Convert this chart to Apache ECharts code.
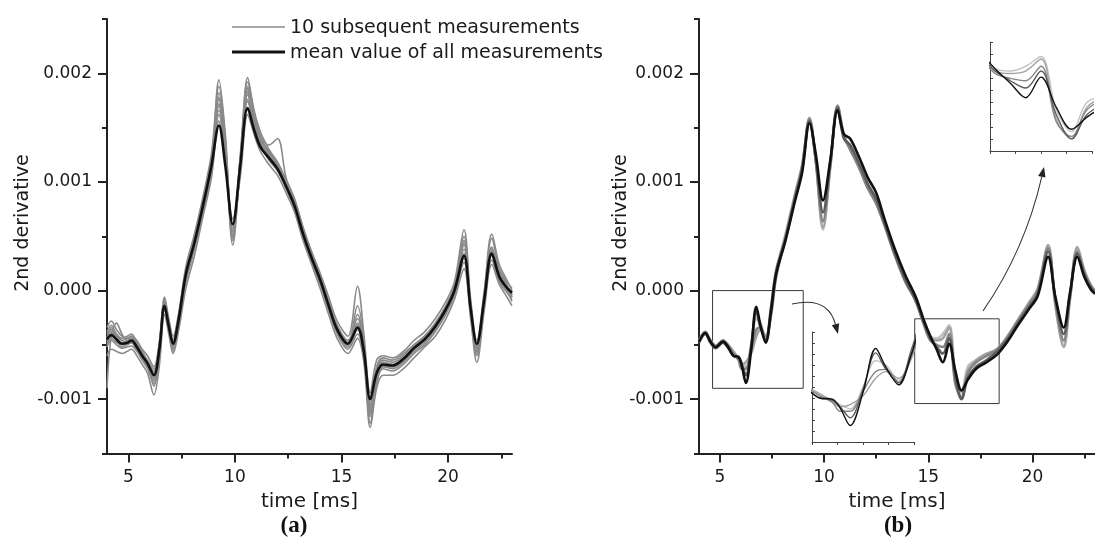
<!DOCTYPE html>
<html>
<head>
<meta charset="utf-8">
<script src="https://cdn.jsdelivr.net/npm/echarts@6/dist/echarts.min.js"></script>
<style>html,body{margin:0;padding:0;background:#fff;}#c{width:1095px;height:541px;}</style>
</head>
<body>
<div id="c"></div>
<script>
// ---- data (values in units of 1e-4) ----
const UNIT = 1e-4;
const X_TICKS = [5, 10, 15, 20];
const X_MINOR = [7.5, 12.5, 17.5, 22.5];
const Y_TICKS = [-0.001, 0, 0.001, 0.002];
const Y_MINOR = [-0.0015, -0.0005, 0.0005, 0.0015, 0.0025];
const LEGEND_NAMES = ['10 subsequent measurements', 'mean value of all measurements'];

// panel (a)
const T_A = [4.0,4.2,4.45,4.7,4.95,5.15,5.4,5.65,5.9,6.2,6.45,6.7,6.9,7.1,7.35,7.7,8.1,8.5,8.9,9.25,9.55,9.9,10.25,10.6,10.9,11.2,11.6,12.0,12.4,12.8,13.2,13.6,14.0,14.4,14.8,15.3,15.75,16.05,16.35,16.65,16.95,17.4,17.9,18.4,18.9,19.4,19.9,20.3,20.75,21.05,21.35,21.7,22.05,22.4,22.7,23.0];
const MEAN_A = [-4.5,-4.1,-4.5,-4.9,-4.8,-4.6,-5.2,-6.0,-6.7,-7.8,-5.5,-1.4,-3.3,-4.9,-2.8,1.5,4.4,7.8,11.5,15.2,11.5,6.1,11.5,16.8,14.8,13.2,12.2,11.2,9.6,7.8,5.2,3.0,1.0,-1.4,-3.6,-4.9,-3.4,-5.6,-10.0,-7.6,-6.8,-6.9,-6.3,-5.3,-4.5,-3.3,-1.7,0.0,3.2,-1.5,-4.9,-0.8,3.4,1.3,0.4,-0.2];
const RUN_A1 = [-3.8,-3.2,-4.0,-4.4,-4.2,-4.0,-4.8,-5.6,-6.4,-7.2,-5.0,-0.8,-2.8,-4.5,-2.4,1.8,4.8,8.2,12.2,17.0,13.0,5.2,12.0,18.4,15.6,13.6,12.6,11.4,9.8,8.0,5.6,3.2,1.2,-1.0,-3.2,-4.6,-2.6,-5.2,-10.8,-7.2,-6.4,-6.6,-6.0,-5.0,-4.2,-3.0,-1.4,0.4,4.2,-1.2,-5.4,-0.4,4.0,1.6,0.6,-0.4];
const RUN_A2 = [-5.2,-4.6,-5.0,-5.3,-5.2,-5.1,-5.6,-6.4,-7.2,-8.6,-6.2,-1.8,-3.6,-5.4,-3.4,0.8,3.8,7.2,11.0,16.2,12.2,5.6,11.0,17.6,15.2,13.4,12.0,11.0,9.4,7.4,4.8,2.6,0.6,-1.8,-4.0,-5.4,-4.0,-6.2,-11.6,-8.4,-7.2,-7.4,-6.8,-5.8,-5.0,-3.8,-2.2,-0.4,2.6,-2.0,-6.0,-1.4,2.8,0.8,0.0,-0.8];
const RUN_A3 = [-3.4,-2.8,-3.6,-4.2,-4.4,-4.2,-4.6,-5.4,-6.0,-7.0,-4.8,-0.6,-2.6,-4.2,-2.2,2.2,5.2,8.6,12.6,18.8,14.0,4.6,12.4,19.2,16.4,14.2,13.4,14.0,10.4,8.4,5.8,3.6,1.6,-0.6,-2.8,-4.2,0.4,-4.0,-9.4,-6.4,-6.0,-6.2,-5.6,-4.6,-3.8,-2.6,-1.0,0.8,5.6,-0.6,-4.6,0.0,4.8,2.0,1.0,0.2];
const RUN_A4 = [-6.0,-5.4,-5.6,-5.8,-5.6,-5.4,-6.0,-6.8,-7.6,-9.6,-7.0,-2.2,-4.0,-5.8,-3.8,0.2,3.2,6.8,10.4,15.6,12.0,6.6,10.4,16.2,14.4,12.8,11.6,10.6,9.0,7.2,4.6,2.4,0.2,-2.2,-4.4,-5.8,-4.4,-6.6,-12.6,-9.0,-7.8,-7.8,-7.2,-6.2,-5.2,-4.2,-2.6,-0.8,2.0,-2.4,-6.6,-1.8,2.4,0.6,-0.4,-1.4];
const RUN_A5 = [-4.0,-3.6,-4.2,-4.6,-4.4,-4.2,-5.0,-5.8,-6.6,-7.6,-5.2,-1.0,-3.0,-4.8,-2.6,1.4,4.4,7.8,11.8,17.6,12.8,4.2,11.6,18.8,16.0,14.0,12.8,11.8,10.0,8.2,5.4,3.2,1.4,-1.2,-3.4,-4.8,-3.0,-5.4,-11.0,-7.4,-6.6,-6.8,-6.2,-5.2,-4.4,-3.2,-1.6,0.2,3.8,-1.6,-5.2,-0.6,3.6,1.4,0.4,-0.6];
const RUN_A6 = [-5.0,-4.4,-4.8,-5.0,-4.9,-4.8,-5.4,-6.2,-6.9,-8.2,-5.8,-1.6,-3.4,-5.2,-3.0,1.0,4.0,7.4,11.2,17.2,12.4,5.0,11.2,17.4,15.4,13.6,12.4,11.4,9.6,7.6,5.0,2.8,0.8,-1.6,-3.8,-5.2,-3.6,-5.8,-11.4,-8.0,-7.0,-7.2,-6.6,-5.6,-4.8,-3.6,-2.0,-0.2,3.0,-1.8,-5.6,-1.0,3.2,1.0,0.2,-1.0];
const RUN_A7 = [-4.6,-3.8,-4.4,-4.8,-4.6,-4.4,-5.2,-6.0,-6.8,-8.0,-5.6,-1.2,-3.2,-5.0,-2.8,1.6,4.6,8.0,11.6,18.2,13.4,5.4,11.8,18.0,15.8,13.8,12.8,11.6,9.8,8.0,5.4,3.0,1.0,-1.4,-3.6,-5.0,-2.2,-5.0,-10.4,-7.8,-6.8,-7.0,-6.4,-5.4,-4.6,-3.4,-1.8,0.0,4.6,-1.4,-5.0,-0.8,3.8,1.2,0.4,-0.2];
const RUN_A8 = [-9.0,-4.2,-3.0,-4.0,-4.6,-4.4,-5.0,-5.8,-6.6,-8.8,-6.0,-1.4,-3.6,-5.6,-3.2,1.2,4.2,7.6,11.4,19.4,14.4,4.8,11.4,19.6,16.6,14.6,13.0,11.8,10.0,8.0,5.4,3.2,1.2,-1.2,-3.4,-4.8,-1.4,-4.6,-12.2,-8.6,-7.0,-7.0,-6.4,-5.4,-4.6,-3.4,-1.8,0.2,5.0,-1.0,-5.8,-0.2,5.2,2.4,1.2,0.0];
const RUN_A9 = [-4.4,-3.4,-4.6,-5.2,-5.0,-4.8,-5.4,-6.2,-7.0,-8.4,-5.4,-1.0,-3.4,-5.2,-3.0,1.2,4.2,7.6,11.6,17.8,13.2,5.8,11.6,18.6,16.2,14.2,12.6,11.6,9.8,7.8,5.2,3.0,1.0,-1.4,-3.6,-5.0,-3.2,-5.6,-11.2,-7.6,-6.6,-6.8,-6.2,-5.2,-4.4,-3.2,-1.6,0.0,4.4,-1.2,-5.6,-0.6,3.8,1.4,0.6,-0.4];
const RUN_A10 = [-4.8,-4.0,-4.2,-4.6,-4.8,-4.6,-5.2,-6.0,-6.6,-7.4,-5.2,-1.6,-3.0,-4.8,-2.6,1.8,4.6,8.0,12.0,16.6,12.6,5.0,12.2,18.2,15.8,14.0,12.8,11.8,10.2,8.4,5.8,3.4,1.4,-1.0,-3.2,-4.6,-3.4,-5.4,-10.6,-7.0,-6.2,-6.4,-5.8,-5.0,-4.2,-3.0,-1.4,0.4,3.4,-1.4,-5.2,-0.6,3.6,1.8,0.8,-0.6];
const RUNS_A = [RUN_A1, RUN_A2, RUN_A3, RUN_A4, RUN_A5, RUN_A6, RUN_A7, RUN_A8, RUN_A9, RUN_A10];

// panel (b)
const T_B = [4.0,4.3,4.55,4.8,5.15,5.4,5.65,5.9,6.05,6.25,6.5,6.75,6.95,7.2,7.45,7.7,8.15,8.6,8.95,9.3,9.6,9.95,10.3,10.65,10.95,11.25,11.7,12.1,12.5,12.9,13.4,13.9,14.4,14.8,15.1,15.4,15.7,16.0,16.3,16.6,16.9,17.3,17.8,18.3,18.8,19.3,19.8,20.25,20.75,21.1,21.5,21.8,22.15,22.5,22.8,23.0];
const B_BLACK = [-4.7,-3.9,-4.7,-5.2,-4.7,-5.2,-6.0,-6.1,-6.9,-8.5,-5.5,-1.5,-3.2,-4.8,-2.0,1.5,4.6,8.2,10.9,15.4,12.6,8.3,12.0,16.6,14.4,14.0,12.2,10.4,9.0,6.6,3.8,1.4,-0.6,-2.8,-4.2,-5.4,-6.6,-4.9,-7.4,-9.2,-8.2,-7.2,-6.6,-5.9,-4.7,-3.2,-1.8,-0.5,3.1,-0.6,-3.4,-0.2,3.1,1.2,0.1,-0.3];
const B_DARK = [-4.8,-4.0,-4.8,-5.3,-4.8,-5.3,-6.0,-6.2,-6.8,-7.8,-5.2,-1.9,-3.4,-4.6,-1.6,1.8,4.8,8.4,11.2,15.6,12.2,7.2,11.8,16.8,14.0,13.4,11.6,9.8,8.4,6.2,3.4,1.0,-0.9,-3.0,-4.4,-5.2,-5.8,-4.4,-8.0,-10.0,-8.0,-7.0,-6.4,-5.6,-4.5,-3.0,-1.6,-0.3,3.6,-0.8,-4.0,-0.4,3.4,1.4,0.3,-0.2];
const B_MID = [-4.6,-3.8,-4.6,-5.1,-4.6,-5.1,-5.8,-6.4,-7.2,-7.2,-5.4,-3.6,-3.4,-4.6,-2.2,1.4,4.8,8.6,11.4,15.8,12.0,6.4,11.6,17.0,14.2,13.0,11.2,9.4,8.0,6.0,3.2,0.8,-1.0,-3.2,-4.6,-5.0,-5.2,-4.0,-8.6,-9.8,-7.6,-6.6,-6.0,-5.4,-4.3,-2.8,-1.4,0.0,3.9,-1.0,-4.6,-0.6,3.6,1.6,0.4,-0.1];
const B_LIGHT = [-4.6,-3.9,-4.6,-5.1,-4.6,-5.0,-5.6,-6.3,-6.8,-6.6,-5.8,-4.2,-3.6,-4.2,-2.4,1.2,5.0,8.8,11.6,15.9,12.0,5.8,11.4,17.0,14.4,13.0,11.4,9.6,8.2,6.2,3.4,1.0,-0.8,-3.0,-4.4,-4.6,-4.4,-3.4,-8.4,-10.0,-7.4,-6.4,-5.8,-5.4,-4.2,-2.7,-1.2,0.2,4.2,-1.4,-5.2,-0.8,4.0,1.8,0.5,0.0];
const B_PALE = [-4.6,-3.9,-4.6,-5.1,-4.6,-5.0,-5.7,-6.2,-6.6,-7.0,-5.0,-2.6,-3.0,-4.4,-2.0,1.8,5.2,8.8,11.4,15.8,12.0,5.6,11.4,16.8,14.2,13.2,11.6,9.8,8.4,6.4,3.6,1.2,-0.6,-2.8,-4.2,-4.4,-4.0,-3.2,-7.6,-9.4,-7.0,-6.4,-6.0,-5.6,-4.4,-2.9,-1.4,0.0,4.0,-1.2,-5.0,-0.6,3.8,1.6,0.4,-0.2];

// zoom boxes [x0, x1, y0, y1] in data units (y in 1e-4)
const BOX_1 = [4.65, 9.0, -9.0, 0.0];
const BOX_2 = [14.35, 18.4, -10.4, -2.6];
// inset ranges [xmin, xmax, ymin, ymax]
const INSET_1 = [5.5, 7.5, -10, 0];
const INSET_2 = [15.0, 17.0, -11, -2];

// ---- build ----
const pairs = (ts, vs) => ts.map((t, i) => [t, vs[i] * UNIT]);
const FONT = 'DejaVu Sans';
const TXT = '#1a1a1a';
const AX = '#222';

function mainX(grid) {
  return [{
    gridIndex: grid, type: 'value', min: 4, max: 23, position: 'bottom',
    axisLine: { show: true, onZero: false, lineStyle: { color: AX, width: 2 } },
    axisTick: { show: true, customValues: X_TICKS, length: 9, lineStyle: { color: AX, width: 2 } },
    axisLabel: { show: true, customValues: X_TICKS, margin: 16, fontSize: 17, fontFamily: FONT, color: TXT },
    splitLine: { show: false },
    name: 'time [ms]', nameLocation: 'middle', nameGap: 37,
    nameTextStyle: { fontSize: 20, fontFamily: FONT, color: TXT }
  }, {
    gridIndex: grid, type: 'value', min: 4, max: 23, position: 'bottom', offset: 0,
    axisLine: { show: false, onZero: false },
    axisTick: { show: true, customValues: X_MINOR, length: 5, lineStyle: { color: AX, width: 2 } },
    axisLabel: { show: false }, splitLine: { show: false }
  }];
}
function mainY(grid) {
  return [{
    gridIndex: grid, type: 'value', min: -0.0015, max: 0.0025, position: 'left',
    axisLine: { show: true, onZero: false, lineStyle: { color: AX, width: 2 } },
    axisTick: { show: true, customValues: Y_TICKS, length: 9, lineStyle: { color: AX, width: 2 } },
    axisLabel: { show: true, customValues: Y_TICKS, margin: 15, fontSize: 17, fontFamily: FONT, color: TXT,
      formatter: v => Number(v).toFixed(3) },
    splitLine: { show: false }
  }, {
    gridIndex: grid, type: 'value', min: -0.0015, max: 0.0025, position: 'left', offset: 0,
    axisLine: { show: false, onZero: false },
    axisTick: { show: true, customValues: Y_MINOR, length: 5, lineStyle: { color: AX, width: 2 } },
    axisLabel: { show: false }, splitLine: { show: false }
  }];
}
function insetX(grid, r) {
  return {
    gridIndex: grid, type: 'value', min: r[0], max: r[1], interval: 0.5,
    axisLine: { show: true, onZero: false, lineStyle: { color: '#444', width: 1 } },
    axisTick: { show: true, length: 3, lineStyle: { color: '#444', width: 1 } },
    axisLabel: { show: false }, splitLine: { show: false }
  };
}
function insetY(grid, r) {
  return {
    gridIndex: grid, type: 'value', min: r[2] * UNIT, max: r[3] * UNIT, interval: UNIT,
    axisLine: { show: true, onZero: false, lineStyle: { color: '#444', width: 1 } },
    axisTick: { show: true, inside: true, length: 3, lineStyle: { color: '#444', width: 1 } },
    axisLabel: { show: false }, splitLine: { show: false }
  };
}

const series = [];
const SM = 0.35;
const GRAY_A = '#8a8a8a', BLACK_A = '#111';
RUNS_A.forEach(run => series.push({
  type: 'line', name: LEGEND_NAMES[0], xAxisIndex: 0, yAxisIndex: 0,
  data: pairs(T_A, run), symbol: 'none', smooth: SM, silent: true,
  lineStyle: { color: GRAY_A, width: 1.6 }, itemStyle: { color: GRAY_A }
}));
series.push({
  type: 'line', name: LEGEND_NAMES[1], xAxisIndex: 0, yAxisIndex: 0,
  data: pairs(T_A, MEAN_A), symbol: 'none', smooth: SM, silent: true,
  lineStyle: { color: BLACK_A, width: 2.6 }, itemStyle: { color: BLACK_A }
});

const B_SET = [
  { name: 'b pale', data: B_PALE, color: '#c2c2c2' },
  { name: 'b light', data: B_LIGHT, color: '#a2a2a2' },
  { name: 'b mid', data: B_MID, color: '#858585' },
  { name: 'b dark', data: B_DARK, color: '#5c5c5c' },
  { name: 'b black', data: B_BLACK, color: '#111111' }
];
const boxArea = b => [{ coord: [b[0], b[2] * UNIT] }, { coord: [b[1], b[3] * UNIT] }];
B_SET.forEach((s, k) => {
  const main = {
    type: 'line', name: s.name, xAxisIndex: 2, yAxisIndex: 2,
    data: pairs(T_B, s.data), symbol: 'none', smooth: SM, silent: true,
    lineStyle: { color: s.color, width: 2.6 }, itemStyle: { color: s.color }
  };
  if (k === 0) {
    main.markArea = {
      silent: true,
      itemStyle: { color: 'rgba(0,0,0,0)', borderColor: '#3a3a3a', borderWidth: 1 },
      data: [boxArea(BOX_1), boxArea(BOX_2)]
    };
  }
  series.push(main);
});
[4, 5].forEach(ax => {
  B_SET.forEach(s => series.push({
    type: 'line', name: s.name + ' inset', xAxisIndex: ax, yAxisIndex: ax,
    data: pairs(T_B, s.data), symbol: 'none', smooth: SM, silent: true, clip: true,
    lineStyle: { color: s.color, width: 1.4 }, itemStyle: { color: s.color }
  }));
});

function arrow(p0, c, p1) {
  const dx = p1[0] - c[0], dy = p1[1] - c[1];
  const L = Math.hypot(dx, dy), ux = dx / L, uy = dy / L;
  const hl = 10, hw = 3.8;
  const bx = p1[0] - ux * hl, by = p1[1] - uy * hl;
  return [{
    type: 'bezierCurve', silent: true,
    shape: { x1: p0[0], y1: p0[1], cpx1: c[0], cpy1: c[1], x2: bx, y2: by },
    style: { stroke: '#333', lineWidth: 1.1, fill: null }
  }, {
    type: 'polygon', silent: true,
    shape: { points: [p1, [bx - uy * hw, by + ux * hw], [bx + uy * hw, by - ux * hw]] },
    style: { fill: '#222' }
  }];
}
function legendItem(y, color, width, text) {
  return [{
    type: 'line', silent: true,
    shape: { x1: 232, y1: y, x2: 285, y2: y },
    style: { stroke: color, lineWidth: width }
  }, {
    type: 'text', x: 290, y: y + 1, silent: true,
    style: { text: text, font: '19px "DejaVu Sans"', fill: TXT, textAlign: 'left', textVerticalAlign: 'middle' }
  }];
}

const option = {
  backgroundColor: '#ffffff',
  animation: false,
  grid: [
    { left: 107, top: 19, width: 405, height: 434.5 },
    { left: 699, top: 19, width: 403, height: 434.5 },
    { left: 812, top: 332, width: 102, height: 110 },
    { left: 990, top: 42, width: 102, height: 109 }
  ],
  xAxis: [...mainX(0), ...mainX(1), insetX(2, INSET_1), insetX(3, INSET_2)],
  yAxis: [...mainY(0), ...mainY(1), insetY(2, INSET_1), insetY(3, INSET_2)],
  graphic: [
    ...legendItem(27, GRAY_A, 1.6, LEGEND_NAMES[0]),
    ...legendItem(52, BLACK_A, 3, LEGEND_NAMES[1]),
    { type: 'text', x: 23, y: 223, rotation: Math.PI / 2, silent: true,
      style: { text: '2nd derivative', font: '19px "DejaVu Sans"', fill: TXT, textAlign: 'center', textVerticalAlign: 'middle' } },
    { type: 'text', x: 621, y: 223, rotation: Math.PI / 2, silent: true,
      style: { text: '2nd derivative', font: '19px "DejaVu Sans"', fill: TXT, textAlign: 'center', textVerticalAlign: 'middle' } },
    { type: 'text', x: 294, y: 526, silent: true,
      style: { text: '(a)', font: 'bold 23px "Liberation Serif"', fill: '#111', textAlign: 'center', textVerticalAlign: 'middle' } },
    { type: 'text', x: 898, y: 526, silent: true,
      style: { text: '(b)', font: 'bold 23px "Liberation Serif"', fill: '#111', textAlign: 'center', textVerticalAlign: 'middle' } },
    ...arrow([792, 304], [828, 296], [838, 334]),
    ...arrow([983, 311], [1025, 250], [1044, 167])
  ],
  series: series
};
const chart = echarts.init(document.getElementById('c'), null, { renderer: 'canvas' });
chart.setOption(option);
</script>
</body>
</html>
